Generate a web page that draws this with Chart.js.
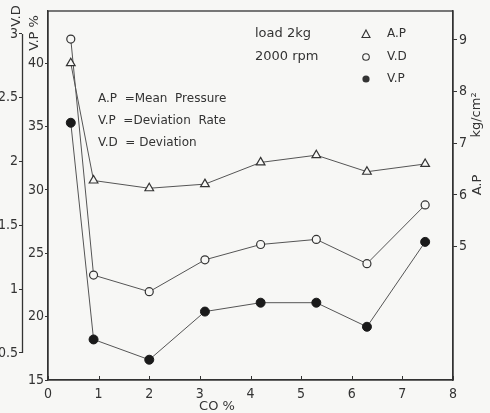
<!DOCTYPE html>
<html>
<head>
<meta charset="utf-8">
<script src="https://cdn.jsdelivr.net/npm/chart.js@4/dist/chart.umd.min.js"></script>
<style>
  html, body { margin: 0; padding: 0; background: #f7f7f5; }
  #wrap { width: 490px; height: 413px; }
</style>
</head>
<body>
<div id="wrap"><canvas id="c" width="490" height="413"></canvas></div>
<script>
// CO concentration (%) at each measurement
const coPercent = [0.45, 0.9, 2.0, 3.1, 4.2, 5.3, 6.3, 7.45];
// A.P : mean pressure, kg/cm2 (right axis)
const meanPressure = [8.55, 6.28, 6.13, 6.21, 6.63, 6.77, 6.45, 6.60];
// V.D : deviation (outer left axis)
const deviation = [2.96, 1.11, 0.98, 1.23, 1.35, 1.39, 1.20, 1.66];
// V.P : deviation rate, % (inner left axis)
const deviationRate = [35.3, 18.2, 16.6, 20.4, 21.1, 21.1, 19.2, 25.9];

// tick labels of each axis
const xTicks = [0, 1, 2, 3, 4, 5, 6, 7, 8];
const vpTicks = [15, 20, 25, 30, 35, 40];
const vdTicks = [0.5, 1, 1.5, 2, 2.5, 3];
const apTicks = [5, 6, 7, 8, 9];

const INK = '#333333';
const LINE = '#555555';
const PAPER = '#f7f7f5';
const NUM_FONT = '"Liberation Sans Narrow", "DejaVu Sans Condensed", "Liberation Sans", sans-serif';
const TXT_FONT = '"DejaVu Sans", "Liberation Sans", sans-serif';

const pts = (ys) => coPercent.map((x, i) => ({ x: x, y: ys[i] }));
const fixTicks = (list) => (scale) => { scale.ticks = list.map(v => ({ value: v })); };

const sideGrid = { display: true, drawOnChartArea: false, drawTicks: true, tickLength: 3, color: INK, lineWidth: 1 };
const numFont = { family: NUM_FONT, size: 14 };

const decorations = {
  id: 'decorations',
  beforeDraw(chart) {
    const ctx = chart.ctx;
    ctx.save();
    ctx.fillStyle = PAPER;
    ctx.fillRect(0, 0, chart.width, chart.height);
    ctx.restore();
  },
  afterDraw(chart) {
    const ctx = chart.ctx;
    const a = chart.chartArea;
    const xs = chart.scales.x;
    const vd = chart.scales.yVD;
    ctx.save();
    ctx.strokeStyle = INK;
    ctx.fillStyle = INK;

    // plot frame
    ctx.lineWidth = 1.3;
    ctx.strokeRect(a.left, a.top, a.right - a.left, a.bottom - a.top);

    // inward tick marks on the CO axis
    ctx.lineWidth = 1;
    xTicks.forEach(v => {
      const px = Math.round(xs.getPixelForValue(v)) + 0.5;
      ctx.beginPath();
      ctx.moveTo(px, a.bottom);
      ctx.lineTo(px, a.bottom - 4);
      ctx.stroke();
    });

    // V.D axis spine, spanning only its labelled range
    const vdX = vd.right + 0.5;
    ctx.lineWidth = 1.3;
    ctx.beginPath();
    ctx.moveTo(vdX, vd.getPixelForValue(vdTicks[0]));
    ctx.lineTo(vdX, vd.getPixelForValue(vdTicks[vdTicks.length - 1]));
    ctx.stroke();

    // rotated axis titles
    const vtext = (txt, x, y, font) => {
      ctx.save();
      ctx.translate(x, y);
      ctx.rotate(-Math.PI / 2);
      ctx.font = font;
      ctx.textAlign = 'center';
      ctx.textBaseline = 'middle';
      ctx.fillText(txt, 0, 0);
      ctx.restore();
    };
    vtext('V.D', 17, 16, '13px ' + TXT_FONT);
    vtext('V.P %', 35, 33, '13px ' + TXT_FONT);
    vtext('kg/cm²', 477, 115, '13px ' + TXT_FONT);
    vtext('A.P', 478, 185, '13px ' + TXT_FONT);

    // x axis title
    ctx.font = '13px ' + TXT_FONT;
    ctx.textAlign = 'center';
    ctx.textBaseline = 'middle';
    ctx.fillText('CO %', 217, 407);

    // test conditions
    ctx.textAlign = 'left';
    ctx.fillText('load 2kg', 255, 34);
    ctx.fillText('2000 rpm', 255, 57);

    // symbol key
    ctx.font = '12px ' + TXT_FONT;
    const keyX = 366;
    ctx.lineWidth = 1.1;
    ctx.beginPath();
    ctx.moveTo(keyX, 30);
    ctx.lineTo(keyX + 4, 37.5);
    ctx.lineTo(keyX - 4, 37.5);
    ctx.closePath();
    ctx.stroke();
    ctx.beginPath();
    ctx.arc(keyX, 57, 3.3, 0, Math.PI * 2);
    ctx.stroke();
    ctx.beginPath();
    ctx.arc(keyX, 79, 3.6, 0, Math.PI * 2);
    ctx.fill();
    ctx.fillText('A.P', 387, 34);
    ctx.fillText('V.D', 387, 57);
    ctx.fillText('V.P', 387, 79);

    // abbreviations
    ctx.fillText('A.P  =Mean  Pressure', 98, 99);
    ctx.fillText('V.P  =Deviation  Rate', 98, 121);
    ctx.fillText('V.D  = Deviation', 98, 143);

    ctx.restore();
  }
};

new Chart(document.getElementById('c'), {
  type: 'line',
  data: {
    datasets: [
      {
        label: 'A.P',
        data: pts(meanPressure),
        yAxisID: 'yAP',
        borderColor: LINE,
        borderWidth: 1,
        pointStyle: 'triangle',
        pointRadius: 5,
        pointBorderWidth: 1.2,
        pointBorderColor: INK,
        pointBackgroundColor: PAPER,
        tension: 0
      },
      {
        label: 'V.D',
        data: pts(deviation),
        yAxisID: 'yVD',
        borderColor: LINE,
        borderWidth: 1,
        pointStyle: 'circle',
        pointRadius: 4,
        pointBorderWidth: 1.2,
        pointBorderColor: INK,
        pointBackgroundColor: PAPER,
        tension: 0
      },
      {
        label: 'V.P',
        data: pts(deviationRate),
        yAxisID: 'yVP',
        borderColor: LINE,
        borderWidth: 1,
        pointStyle: 'circle',
        pointRadius: 4.5,
        pointBorderWidth: 1,
        pointBorderColor: '#1a1a1a',
        pointBackgroundColor: '#1a1a1a',
        tension: 0
      }
    ]
  },
  options: {
    responsive: false,
    devicePixelRatio: 1,
    animation: false,
    layout: { padding: { top: 11, left: 0, right: 0, bottom: 0 } },
    plugins: { legend: { display: false }, tooltip: { enabled: false } },
    scales: {
      x: {
        type: 'linear',
        position: 'bottom',
        min: 0,
        max: 8,
        afterBuildTicks: fixTicks(xTicks),
        afterFit: (s) => { s.height = 33; },
        grid: { display: true, drawOnChartArea: false, drawTicks: false, color: INK },
        border: { display: true, color: INK, width: 1.3 },
        ticks: { font: numFont, color: INK, padding: 6, maxRotation: 0 }
      },
      yVD: {
        type: 'linear',
        position: 'left',
        weight: 1,
        min: 0.288,
        max: 3.18,
        afterBuildTicks: fixTicks(vdTicks),
        afterFit: (s) => { s.width = 22; },
        grid: sideGrid,
        border: { display: false },
        ticks: { font: numFont, color: INK, padding: 1, callback: (v) => String(v) }
      },
      yVP: {
        type: 'linear',
        position: 'left',
        weight: 0,
        min: 15,
        max: 44.12,
        afterBuildTicks: fixTicks(vpTicks),
        afterFit: (s) => { s.width = 26; },
        grid: sideGrid,
        border: { display: true, color: INK, width: 1.3 },
        ticks: { font: numFont, color: INK, padding: 1 }
      },
      yAP: {
        type: 'linear',
        position: 'right',
        min: 2.42,
        max: 9.56,
        afterBuildTicks: fixTicks(apTicks),
        afterFit: (s) => { s.width = 37; },
        grid: Object.assign({}, sideGrid, { tickLength: 4 }),
        border: { display: true, color: INK, width: 1.3 },
        ticks: { font: numFont, color: INK, padding: 2 }
      }
    }
  },
  plugins: [decorations]
});
</script>
</body>
</html>
